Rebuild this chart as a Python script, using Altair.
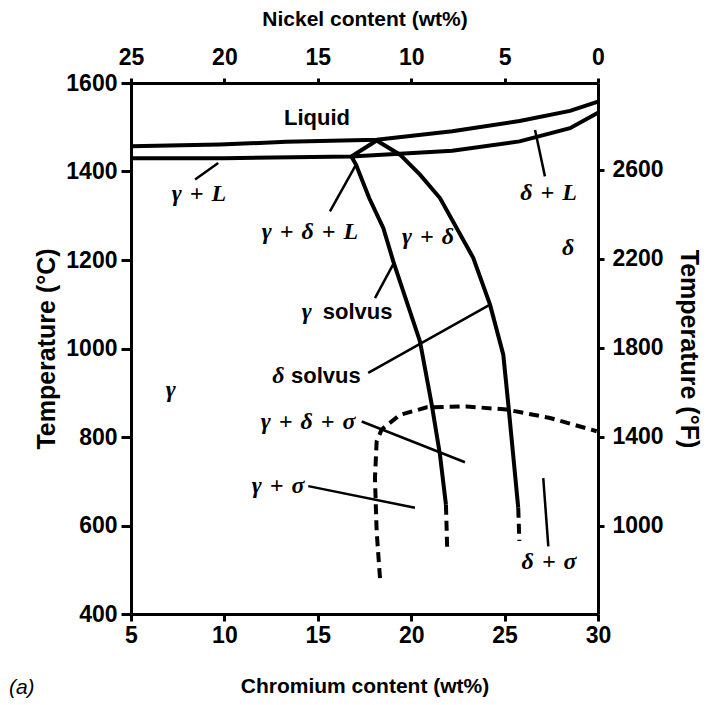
import altair as alt
import pandas as pd

# ---------------- data (Cr wt%, Temperature °C) ----------------
liquidus_cr = [5.0, 9.76, 13.3, 18.15, 22.2, 25.8, 28.5, 30.0]
liquidus_t = [1457, 1461, 1467, 1472, 1491, 1514, 1537, 1558]

solidus_cr = [5.0, 10.0, 16.8, 22.2, 25.8, 28.5, 30.0]
solidus_t = [1430, 1430, 1434, 1447, 1468, 1498, 1533]

gl_cr = [18.15, 16.8]
gl_t = [1470, 1434]

gsolvus_cr = [16.8, 17.05, 17.75, 18.51, 19.04, 20.47, 21.1, 21.54, 21.86]
gsolvus_t = [1434, 1415, 1340, 1272, 1197, 1016, 873, 760, 647]

dsolvus_cr = [18.15, 19.4, 20.47, 21.54, 23.32, 24.22, 24.93, 25.2, 25.73]
dsolvus_t = [1470, 1438, 1393, 1340, 1205, 1099, 986, 873, 640]

gsolvus_dash_cr = [21.86, 21.93]
gsolvus_dash_t = [647, 542]

dsolvus_dash_cr = [25.73, 25.79]
dsolvus_dash_t = [640, 565]

sigma_cr = [18.33, 18.15, 18.06, 18.15, 18.42, 19.4, 20.83, 22.97, 25.11, 27.43, 29.93]
sigma_t = [481, 587, 707, 790, 817, 850, 867, 869, 862, 843, 813]

# leader lines: (cr1, t1, cr2, t2)
leaders = {
    "gL": (8.43, 1382, 9.67, 1419),
    "dL": (26.63, 1494, 27.16, 1389),
    "gdL": (17.04, 1415, 15.65, 1310),
    "gsolv": (18.06, 1114, 19.1, 1195),
    "dsolv": (17.7, 945, 24.22, 1099),
    "gds": (17.35, 835, 22.88, 743),
    "gs": (14.49, 689, 20.2, 640),
    "ds": (27.07, 707, 27.34, 553),
}

SP = "\u2004"
# labels
greek_text = ["γ" + SP + "+" + SP + "L", "δ" + SP + "+" + SP + "L",
              "γ" + SP + "+" + SP + "δ" + SP + "+" + SP + "L", "γ" + SP + "+" + SP + "δ",
              "δ", "γ",
              "γ" + SP + "+" + SP + "δ" + SP + "+" + SP + "σ", "γ" + SP + "+" + SP + "σ",
              "δ" + SP + "+" + SP + "σ", "γ", "δ"]
greek_cr = [8.64, 27.35, 14.58, 20.9, 28.4, 7.13, 14.48, 12.87, 27.38, 14.41, 12.89]
greek_t = [1349, 1351, 1263, 1252, 1227, 907, 834, 689, 518, 1082, 938]

sans_text = ["Liquid", "solvus", "solvus"]
sans_cr = [14.96, 17.13, 15.43]
sans_t = [1521, 1082, 938]

panel_text = ["(a)"]
panel_cr = [-0.85]
panel_t = [232]

ni_ticks = [25, 20, 15, 10, 5, 0]
cr_ticks = [5, 10, 15, 20, 25, 30]
c_ticks = [400, 600, 800, 1000, 1200, 1400, 1600]
f_ticks = [1000, 1400, 1800, 2200, 2600]

# ---------------- build tables ----------------
def seg_rows(name, xs, ts):
    return [{"seg": name, "ord": i, "cr": x, "t": t} for i, (x, t) in enumerate(zip(xs, ts))]

solid_rows = (seg_rows("liq", liquidus_cr, liquidus_t) + seg_rows("sol", solidus_cr, solidus_t)
              + seg_rows("gl", gl_cr, gl_t) + seg_rows("gsv", gsolvus_cr, gsolvus_t)
              + seg_rows("dsv", dsolvus_cr, dsolvus_t))
dash_rows = (seg_rows("gsd", gsolvus_dash_cr, gsolvus_dash_t)
             + seg_rows("dsd", dsolvus_dash_cr, dsolvus_dash_t)
             + seg_rows("sig", sigma_cr, sigma_t))
lead_rows = []
for k, (a, b, c, d) in leaders.items():
    lead_rows += seg_rows(k, [a, c], [b, d])

solid_df = pd.DataFrame(solid_rows)
dash_df = pd.DataFrame(dash_rows)
lead_df = pd.DataFrame(lead_rows)
greek_df = pd.DataFrame({"label": greek_text, "cr": greek_cr, "t": greek_t})
sans_df = pd.DataFrame({"label": sans_text, "cr": sans_cr, "t": sans_t})
panel_df = pd.DataFrame({"label": panel_text, "cr": panel_cr, "t": panel_t})

W, H = 467, 531
LBL = dict(labelFont="Liberation Sans", labelFontWeight="bold", labelFontSize=23, labelColor="black",
           titleFont="Liberation Sans", titleFontWeight="bold", titleColor="black",
           domainColor="black", domainWidth=3, tickColor="black", tickWidth=3,
           grid=False, labelFlush=False)

xs = alt.X("cr:Q", scale=alt.Scale(domain=[5, 30], nice=False, zero=False),
           axis=alt.Axis(values=cr_ticks, format="d", title="Chromium content (wt%)",
                         titleFontSize=21, tickSize=7, labelPadding=3, titlePadding=28, **LBL))
ys = alt.Y("t:Q", scale=alt.Scale(domain=[400, 1600], nice=False, zero=False),
           axis=alt.Axis(values=c_ticks, format="d", title="Temperature (°C)",
                         titleFontSize=25, tickSize=10, labelPadding=4, titlePadding=6, **LBL))

solid = alt.Chart(solid_df).mark_line(color="black", strokeWidth=4).encode(
    x=xs, y=ys, detail="seg:N", order="ord:Q")
dashed = alt.Chart(dash_df).mark_line(color="black", strokeWidth=4, strokeDash=[10, 6]).encode(
    x="cr:Q", y="t:Q", detail="seg:N", order="ord:Q")
lead = alt.Chart(lead_df).mark_line(color="black", strokeWidth=2.5).encode(
    x="cr:Q", y="t:Q", detail="seg:N", order="ord:Q")
greek = alt.Chart(greek_df).mark_text(font="Liberation Serif", fontStyle="italic", fontWeight="bold",
                                      fontSize=24, color="black", baseline="middle").encode(
    x="cr:Q", y="t:Q", text="label:N")
sans = alt.Chart(sans_df).mark_text(font="Liberation Sans", fontWeight="bold",
                                    fontSize=22, color="black", baseline="middle").encode(
    x="cr:Q", y="t:Q", text="label:N")
panel = alt.Chart(panel_df).mark_text(font="Liberation Sans", fontStyle="italic",
                                      fontSize=21, color="black", baseline="middle").encode(
    x="cr:Q", y="t:Q", text="label:N")

main = alt.layer(solid, dashed, lead, greek, sans, panel)

axis_df = pd.DataFrame({"ni": [0, 25], "f": [1000, 2600]})
sec = alt.Chart(axis_df).mark_point(opacity=0).encode(
    x=alt.X("ni:Q", scale=alt.Scale(domain=[0, 25], reverse=True, nice=False, zero=False),
            axis=alt.Axis(orient="top", values=ni_ticks, format="d", title="Nickel content (wt%)",
                          titleFontSize=21, tickSize=5, labelPadding=9, titlePadding=17, **LBL)),
    y=alt.Y("f:Q", scale=alt.Scale(domain=[603, 2990], nice=False, zero=False),
            axis=alt.Axis(orient="right", values=f_ticks, format="d", title="Temperature (°F)",
                          titleFontSize=25, tickSize=6, labelPadding=8, titlePadding=12, **LBL)),
)

chart = alt.layer(main, sec).resolve_scale(x="independent", y="independent").properties(
    width=W, height=H, padding={"left": 0, "top": 0, "right": 5, "bottom": 5}
).configure_view(stroke=None)

chart.save("out.html", embed_options={"renderer": "svg", "actions": False})
